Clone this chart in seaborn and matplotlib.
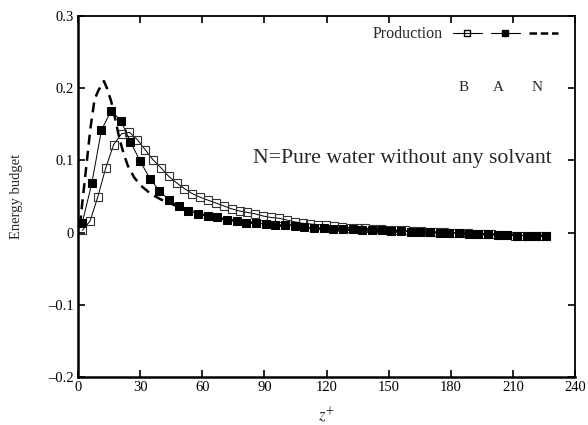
import numpy as np
import pandas as pd
import matplotlib
matplotlib.use("Agg")
import matplotlib.pyplot as plt
import seaborn as sns
from matplotlib.lines import Line2D

# ---- data ----
z_B = [2.0, 5.8, 9.6, 13.4, 17.2, 21.0, 24.8, 28.6, 32.4, 36.2, 40.0, 43.8, 47.6, 51.4,
       55.2, 59.0, 62.8, 66.6, 70.4, 74.2, 78.0, 81.8, 85.6, 89.4, 93.2, 97.0, 100.8,
       104.6, 108.4, 112.2, 116.0, 119.8, 123.6, 127.4, 131.2, 135.0, 138.8, 142.6,
       146.4, 150.2, 154.0, 157.8, 161.6, 165.4, 169.2, 173.0, 176.8, 180.6, 184.4,
       188.2, 192.0, 195.8, 199.6, 203.4, 207.2, 211.0, 214.8, 218.6, 222.4, 226.2]
v_B = [0.003, 0.016, 0.050, 0.090, 0.122, 0.137, 0.139, 0.129, 0.115, 0.101, 0.090,
       0.078, 0.069, 0.061, 0.054, 0.049, 0.045, 0.041, 0.037, 0.033, 0.030, 0.028,
       0.026, 0.023, 0.021, 0.020, 0.0175, 0.015, 0.013, 0.012, 0.011, 0.010, 0.009,
       0.008, 0.007, 0.0065, 0.006, 0.005, 0.0045, 0.004, 0.0035, 0.003, 0.0025,
       0.002, 0.0015, 0.001, 0.0005, 0.0, -0.0005, -0.001, -0.0015, -0.002, -0.0025,
       -0.003, -0.0035, -0.004, -0.004, -0.0045, -0.0045, -0.005]

z_A = [2.0, 6.7, 11.3, 16.0, 20.7, 25.3, 30.0, 34.7, 39.3, 44.0, 48.7, 53.3, 58.0,
       62.7, 67.3, 72.0, 76.7, 81.3, 86.0, 90.7, 95.3, 100.0, 104.7, 109.3, 114.0,
       118.7, 123.3, 128.0, 132.7, 137.3, 142.0, 146.7, 151.3, 156.0, 160.7, 165.3,
       170.0, 174.7, 179.3, 184.0, 188.7, 193.3, 198.0, 202.7, 207.3, 212.0, 216.7,
       221.3, 226.0]
v_A = [0.013, 0.069, 0.142, 0.169, 0.155, 0.126, 0.099, 0.075, 0.058, 0.045, 0.037,
       0.030, 0.026, 0.023, 0.021, 0.018, 0.016, 0.014, 0.013, 0.012, 0.011, 0.010,
       0.009, 0.0075, 0.007, 0.006, 0.0055, 0.005, 0.0045, 0.004, 0.0035, 0.003,
       0.0025, 0.002, 0.0015, 0.001, 0.0005, 0.0, -0.0005, -0.001, -0.0015, -0.002,
       -0.0025, -0.003, -0.0035, -0.004, -0.004, -0.0045, -0.0045]

z_N = [1.0, 2.0, 4.0, 6.0, 8.0, 10.0, 12.5, 14.0, 16.0, 18.0, 20.0, 22.0, 24.0, 27.0,
       30.0, 35.0, 40.0, 45.0, 50.0, 60.0, 70.0, 80.0, 100.0, 120.0, 150.0, 180.0,
       210.0, 225.0]
v_N = [0.010, 0.040, 0.092, 0.145, 0.185, 0.198, 0.210, 0.200, 0.182, 0.157, 0.130,
       0.110, 0.093, 0.077, 0.066, 0.054, 0.046, 0.040, 0.034, 0.025, 0.019, 0.015,
       0.009, 0.005, 0.002, -0.001, -0.003, -0.004]

x_ticks = [0, 30, 60, 90, 120, 150, 180, 210, 240]
y_ticks = [-0.2, -0.1, 0.0, 0.1, 0.2, 0.3]
y_ticklabels = ["\u20130.2", "\u20130.1", "0", "0.1", "0.2", "0.3"]

sns.set_style("ticks")
plt.rcParams["font.family"] = ["Liberation Serif", "DejaVu Serif"]
plt.rcParams["mathtext.fontset"] = "stix"

fig = plt.figure(figsize=(5.88, 4.25), dpi=100)
ax = fig.add_axes([0.1327, 0.113, 0.8453, 0.849])

dfB = pd.DataFrame({"z": z_B, "v": v_B})
dfA = pd.DataFrame({"z": z_A, "v": v_A})
dfN = pd.DataFrame({"z": z_N, "v": v_N})

sns.lineplot(data=dfB, x="z", y="v", ax=ax, color="black", lw=0.7,
             marker="s", markersize=5.3, markerfacecolor="none",
             markeredgecolor="#333333", markeredgewidth=0.8, estimator=None)
sns.lineplot(data=dfA, x="z", y="v", ax=ax, color="black", lw=0.7,
             marker="s", markersize=5.3, markerfacecolor="black",
             markeredgecolor="black", estimator=None)
sns.lineplot(data=dfN, x="z", y="v", ax=ax, color="black", lw=1.8,
             dashes=False, estimator=None)
ax.lines[-1].set_linestyle((0, (4, 2.5)))

ax.set_xlim(0, 240)
ax.set_ylim(-0.2, 0.3)
ax.set_xticks(x_ticks)
ax.set_xticklabels([str(t) for t in x_ticks])
ax.set_yticks(y_ticks)
ax.set_yticklabels(y_ticklabels)
ax.tick_params(direction="in", length=5, width=1.2, top=True, right=True,
               labelsize=10.5, colors="black", pad=3)
for s in ["left", "bottom"]:
    ax.spines[s].set_linewidth(1.8)
for s in ["top", "right"]:
    ax.spines[s].set_linewidth(1.3)
    ax.spines[s].set_visible(True)
for s in ax.spines.values():
    s.set_color("black")

ax.set_xlabel(r"$z^{+}$", fontsize=12, labelpad=8)
ax.set_ylabel("Energy budget", fontsize=10.5, labelpad=18)

# legend
h1 = Line2D([], [], color="black", lw=0.8, marker="s", markersize=4.5,
            markerfacecolor="none", markeredgecolor="black")
h2 = Line2D([], [], color="black", lw=0.8, marker="s", markersize=4.5,
            markerfacecolor="black", markeredgecolor="black")
h3 = Line2D([], [], color="black", lw=1.8, linestyle=(0, (3, 1.5)))
ax.legend([h1, h2, h3], ["Production", "", ""], ncol=3, markerfirst=False,
          frameon=False, loc="upper right", bbox_to_anchor=(0.995, 1.012),
          handlelength=1.8, columnspacing=0.0, handletextpad=0.6,
          fontsize=11.5)

ax.text(186, 0.2017, "B", fontsize=11, ha="center", va="center")
ax.text(203, 0.2017, "A", fontsize=11, ha="center", va="center")
ax.text(221.7, 0.2017, "N", fontsize=11, ha="center", va="center")
ax.text(84.5, 0.103, "N=Pure water without any solvant", fontsize=15.7,
        ha="left", va="center")

fig.savefig("out.png", dpi=100)
